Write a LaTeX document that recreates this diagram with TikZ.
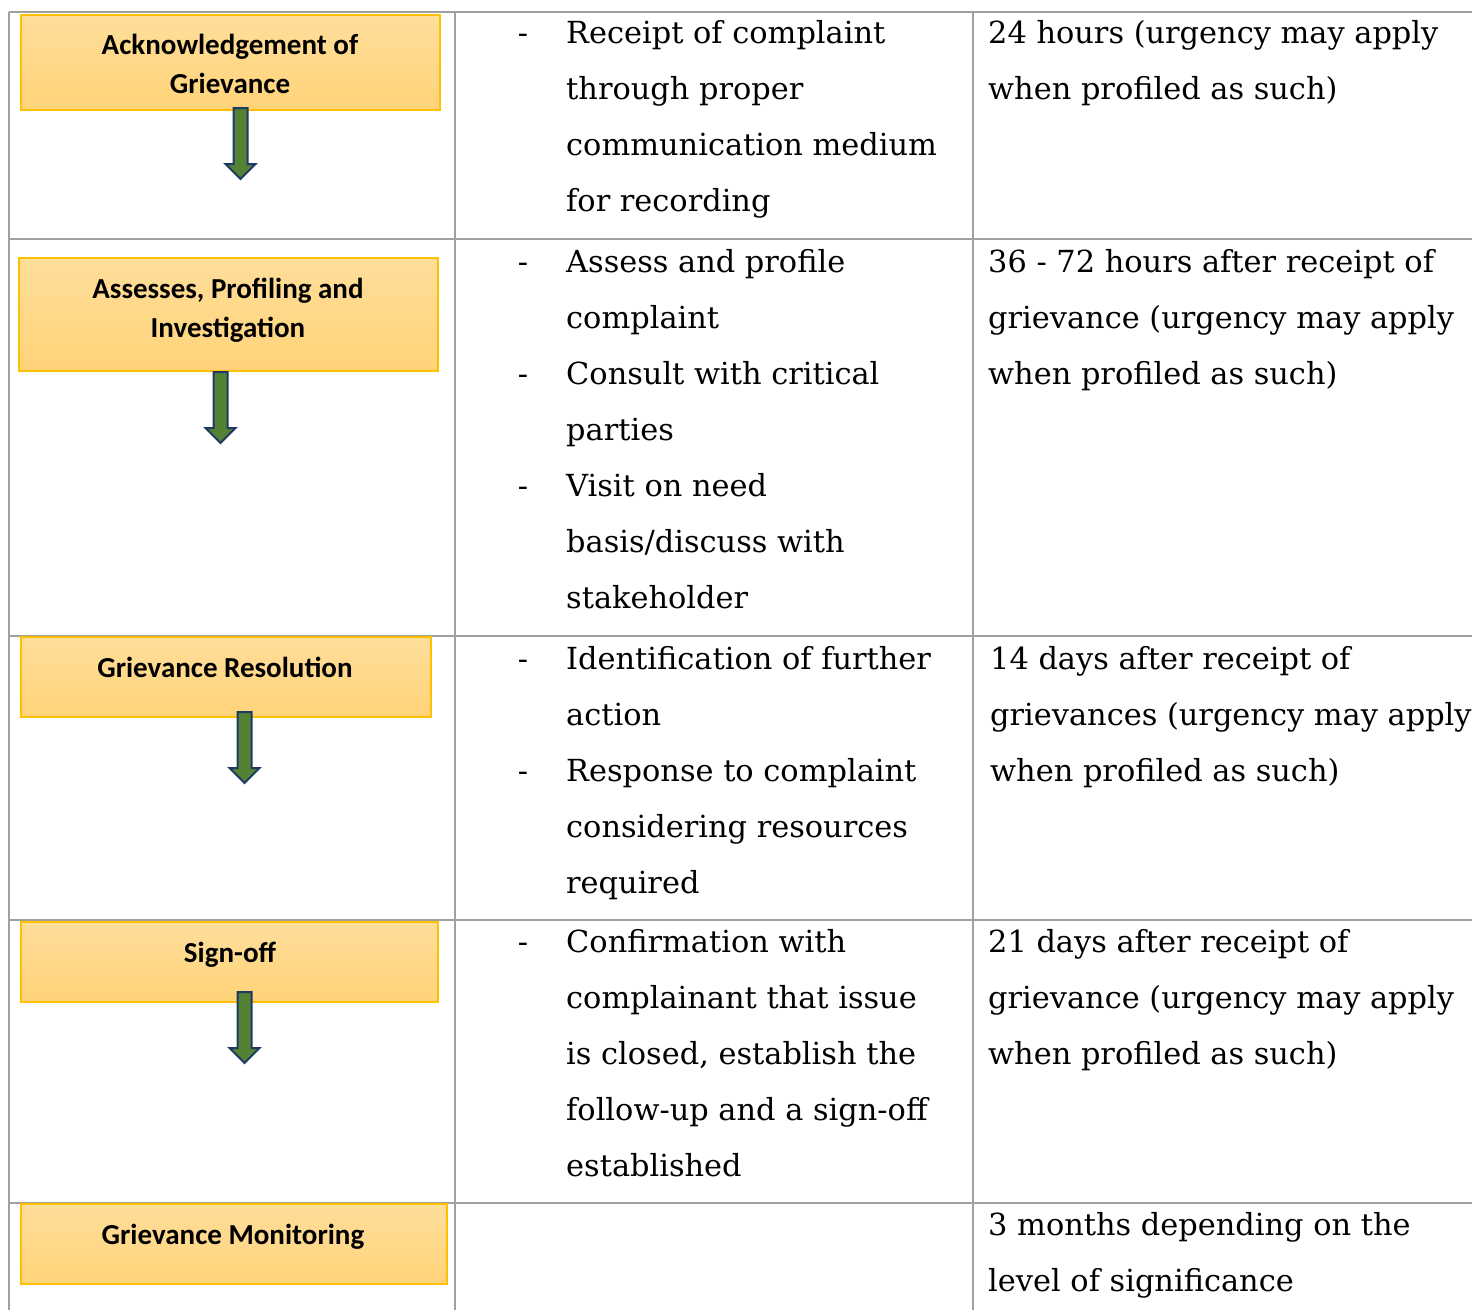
\documentclass[tikz,border=0pt]{standalone}
\usepackage{fontspec}
\setmainfont{DejaVu Serif}
\newfontfamily\stagefont{Carlito}
\usetikzlibrary{positioning}
\definecolor{gridgray}{RGB}{160,160,160}
\definecolor{boxtop}{RGB}{255,222,155}
\definecolor{boxbottom}{RGB}{255,211,120}
\definecolor{boxedge}{RGB}{255,192,0}
\definecolor{arrowfill}{RGB}{84,130,53}
\definecolor{arrowedge}{RGB}{31,56,100}
\tikzset{
    grid line/.style={
        draw=gridgray,
        line width=2pt,
    },
    stage box/.style={
        rectangle,
        top color=boxtop,
        bottom color=boxbottom,
        draw=boxedge,
        line width=1.5pt,
        inner sep=0pt,
    },
    stage text/.style={
        font=\stagefont\bfseries\fontsize{29}{39.5}\selectfont,
        align=center,
        anchor=base,
        inner sep=0pt,
    },
    step text/.style={
        font=\fontsize{30.4}{56}\selectfont,
        align=left,
        anchor=base west,
        inner sep=0pt,
    },
    step dash/.style={
        font=\fontsize{30.4}{56}\selectfont,
        anchor=base,
        inner sep=0pt,
    },
    block arrow/.style={
        fill=arrowfill,
        draw=arrowedge,
        line width=2pt,
        line join=miter,
    },
}
% multi-line nodes sit on the baseline of their last line
\newcommand\lineskipstep{56}
\newcommand\flowarrow[1]{
    \draw[block arrow, shift={(#1)}] (-7,0) -- (-7,56) -- (-15,56) -- (0,71) -- (15,56) -- (7,56) -- (7,0) -- cycle;
}

\begin{document}
\begin{tikzpicture}[x=1pt, y=-1pt]

    \useasboundingbox (0,0) rectangle (1472,1310);

    % table rules
    \foreach \y in {12,239,636,920,1203}
    {
        \draw[grid line] (9,\y) -- (1472,\y);
    }
    \foreach \x in {9,455,973}
    {
        \draw[grid line] (\x,12) -- (\x,1310);
    }

    % stages
    \node[stage box, minimum width=419pt, minimum height=95pt] (ack) at (230.5,62.5) {};
    \node[stage box, minimum width=419pt, minimum height=113pt] (assess) at (228.5,314.5) {};
    \node[stage box, minimum width=410pt, minimum height=80pt] (resol) at (226,677) {};
    \node[stage box, minimum width=417pt, minimum height=80pt] (signoff) at (229.5,962) {};
    \node[stage box, minimum width=426pt, minimum height=80pt] (monitor) at (234,1244) {};

    \node[stage text] (acklabel) at (230,{54+39.5}) {Acknowledgement of\\Grievance};
    \node[stage text] (assesslabel) at (228,{298+39.5}) {Assesses, Profiling and\\Investigation};
    \node[stage text] (resollabel) at (225,677) {Grievance Resolution};
    \node[stage text] (signofflabel) at (230,962) {Sign-off};
    \node[stage text] (monitorlabel) at (233,1244) {Grievance Monitoring};

    \coordinate (ackarrow) at (240.5,108);
    \coordinate (assessarrow) at (220.5,372);
    \coordinate (resolarrow) at (244.5,712);
    \coordinate (signoffarrow) at (244.5,992);
    \flowarrow{ackarrow}
    \flowarrow{assessarrow}
    \flowarrow{resolarrow}
    \flowarrow{signoffarrow}

    % actions
    \node[step dash] (dash1) at (523,43) {-};
    \node[step text] (act1) at (566,{43+3*\lineskipstep}) {Receipt of complaint\\through proper\\communication medium\\for recording};

    \node[step dash] (dash2a) at (523,272) {-};
    \node[step dash] (dash2b) at (523,384) {-};
    \node[step dash] (dash2c) at (523,496) {-};
    \node[step text] (act2) at (566,{272+6*\lineskipstep}) {Assess and profile\\complaint\\Consult with critical\\parties\\Visit on need\\basis/discuss with\\stakeholder};

    \node[step dash] (dash3a) at (523,669) {-};
    \node[step dash] (dash3b) at (523,781) {-};
    \node[step text] (act3) at (566,{669+4*\lineskipstep}) {Identification of further\\action\\Response to complaint\\considering resources\\required};

    \node[step dash] (dash4) at (523,952) {-};
    \node[step text] (act4) at (566,{952+4*\lineskipstep}) {Confirmation with\\complainant that issue\\is closed, establish the\\follow-up and a sign-off\\established};

    % timelines
    \node[step text] (time1) at (988,{43+\lineskipstep}) {24 hours (urgency may apply\\when profiled as such)};
    \node[step text] (time2) at (988,{272+2*\lineskipstep}) {36 - 72 hours after receipt of\\grievance (urgency may apply\\when profiled as such)};
    \node[step text] (time3) at (990,{669+2*\lineskipstep}) {14 days after receipt of\\grievances (urgency may apply\\when profiled as such)};
    \node[step text] (time4) at (988,{952+2*\lineskipstep}) {21 days after receipt of\\grievance (urgency may apply\\when profiled as such)};
    \node[step text] (time5) at (988,{1235+\lineskipstep}) {3 months depending on the\\level of significance};

\end{tikzpicture}
\end{document}
